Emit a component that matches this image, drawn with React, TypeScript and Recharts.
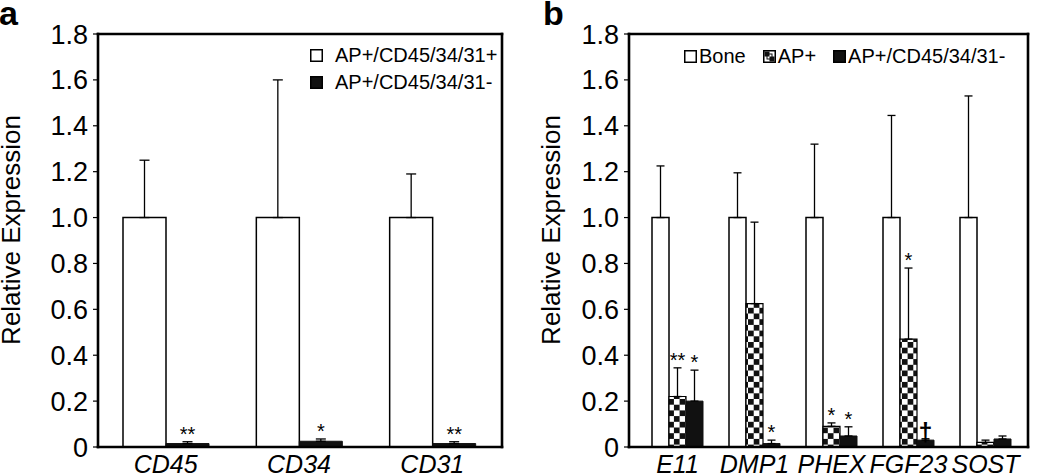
import React from 'react';
import {
  BarChart, Bar, XAxis, YAxis, ErrorBar, LabelList, Label, Legend,
} from 'recharts';

// panel a
const genesA = ['CD45', 'CD34', 'CD31'];
const posA = [1.0, 1.0, 1.0];
const posAErr = [0.25, 0.6, 0.19];
const negA = [0.015, 0.025, 0.015];
const negAErr = [0.008, 0.01, 0.008];
const negAStars = ['**', '*', '**'];

// panel b
const genesB = ['E11', 'DMP1', 'PHEX', 'FGF23', 'SOST'];
const bone = [1.0, 1.0, 1.0, 1.0, 1.0];
const boneErr = [0.225, 0.195, 0.32, 0.445, 0.53];
const apPos = [0.22, 0.625, 0.09, 0.47, 0.02];
const apPosErr = [0.125, 0.355, 0.015, 0.31, 0.01];
const apPosStars = ['**', '', '*', '*', ''];
const apNeg = [0.2, 0.015, 0.048, 0.03, 0.035];
const apNegErr = [0.135, 0.015, 0.04, 0.006, 0.013];
const apNegStars = ['*', '*', '*', '\u2020', ''];

const yTicks = [0, 0.2, 0.4, 0.6, 0.8, 1.0, 1.2, 1.4, 1.6, 1.8];
const yMax = 1.8;

const dataA = genesA.map((g, i) => ({
  gene: g,
  pos: posA[i], posErr: [0, posAErr[i]],
  neg: negA[i], negErr: [0, negAErr[i]],
  negStar: negAStars[i],
}));

const dataB = genesB.map((g, i) => ({
  gene: g,
  bone: bone[i], boneErr: [0, boneErr[i]],
  apPos: apPos[i], apPosErr: [0, apPosErr[i]], apPosStar: apPosStars[i],
  apNeg: apNeg[i], apNegErr: [0, apNegErr[i]], apNegStar: apNegStars[i],
}));

const FONT = '"Liberation Sans", Arial, Helvetica, sans-serif';
const LW = 2.6;
const axisLine = { stroke: '#000', strokeWidth: LW, strokeLinecap: 'square' as const };
const hiddenTick = { fill: 'transparent', fontSize: 10 };
const hiddenTickLine = { stroke: 'transparent' };

// star sits above the error bar top: scale taken from the bar's own px/value
const starLabel = (vals: number[], errs: number[], size: number) => (props: any) => {
  const { x, y, width, height, value, index } = props;
  if (!value) return null;
  const v = vals[index];
  const ppu = v > 0 ? height / v : 0;
  const top = y - errs[index] * ppu;
  const dagger = value === '\u2020';
  return (
    <text x={x + width / 2} y={dagger ? top + 2 : top - 1} textAnchor="middle"
      fontSize={dagger ? 25 : size} fontWeight={dagger ? 'bold' : 'normal'} fill="#000" fontFamily={FONT}>
      {value}
    </text>
  );
};

const yLabel = (bx: number) => (props: any) => {
  const vb = props.viewBox;
  const cx = vb.x + bx;
  const cy = 230;
  return (
    <text x={cx} y={cy} transform={`rotate(-90, ${cx}, ${cy})`} textAnchor="middle"
      fontSize={26} fill="#000" fontFamily={FONT}>
      Relative Expression
    </text>
  );
};

const Swatch: React.FC<{ kind: string }> = ({ kind }) => (
  <svg width={13} height={13} style={{ display: 'block' }}>
    <rect x={0.75} y={0.75} width={11.5} height={11.5} stroke="#000" strokeWidth={1.5}
      fill={kind === 'black' ? '#111' : '#fff'} />
    {kind === 'check' && (
      <>
        <rect x={1.5} y={1.5} width={5} height={5} fill="#111" />
        <rect x={6.5} y={6.5} width={5} height={5} fill="#111" />
        <rect x={4} y={4} width={5} height={5} fill="none" stroke="#111" strokeWidth={1} />
      </>
    )}
  </svg>
);

const legendA = () => (
  <div style={{ fontFamily: FONT, fontSize: 20, color: '#000', lineHeight: '27px' }}>
    {[['white', 'AP+/CD45/34/31+'], ['black', 'AP+/CD45/34/31-']].map(([k, t]) => (
      <div key={t} style={{ display: 'flex', alignItems: 'center' }}>
        <Swatch kind={k} /><span style={{ marginLeft: 12 }}>{t}</span>
      </div>
    ))}
  </div>
);

const legendB = () => (
  <div style={{ fontFamily: FONT, fontSize: 20, color: '#000', display: 'flex', alignItems: 'center', whiteSpace: 'nowrap' }}>
    {[['white', 'Bone'], ['check', 'AP+'], ['black', 'AP+/CD45/34/31-']].map(([k, t], i) => (
      <div key={t} style={{ display: 'flex', alignItems: 'center', marginLeft: i ? 17 : 0 }}>
        <Swatch kind={k} /><span style={{ marginLeft: 2 }}>{t}</span>
      </div>
    ))}
  </div>
);

const tickFmt = (v: number) => (v === 0 ? '0' : v.toFixed(1));
const yTick = { fontSize: 27, fill: '#000', fontFamily: FONT };
const xTick = { fontSize: 25, fill: '#000', fontFamily: FONT, fontStyle: 'italic' as const };

const H = 476;
const X_H = 29;
const TOP_H = 30;

const App: React.FC = () => (
  <div style={{ position: 'absolute', left: 0, top: 0, width: 1050, height: H, background: '#fff', fontFamily: FONT }}>
    <svg width={0} height={0} style={{ position: 'absolute' }}>
      <defs>
        <pattern id="check" width={11.4} height={11.4} patternUnits="userSpaceOnUse">
          <rect width={11.4} height={11.4} fill="#fff" />
          <rect width={5.7} height={5.7} fill="#111" />
          <rect x={5.7} y={5.7} width={5.7} height={5.7} fill="#111" />
        </pattern>
      </defs>
    </svg>

    <div style={{ position: 'absolute', left: -1, top: 0, fontSize: 34, lineHeight: '26px', fontWeight: 'bold' }}>a</div>
    <div style={{ position: 'absolute', left: 543, top: 0, fontSize: 34, lineHeight: '26px', fontWeight: 'bold' }}>b</div>

    <div style={{ position: 'absolute', left: 0, top: 0, width: 520, height: H }}>
      <BarChart width={520} height={H} data={dataA} barGap={0} barSize={43}
        margin={{ top: 34 - TOP_H, right: 0, bottom: 0, left: 0 }}>
        <XAxis dataKey="gene" height={X_H} tickLine={false} axisLine={axisLine} tick={xTick}
          padding={{ left: 1, right: 3 }} interval={0} tickMargin={2} />
        <XAxis xAxisId="top" dataKey="gene" orientation="top" height={TOP_H} axisLine={axisLine}
          tick={hiddenTick} tickLine={hiddenTickLine} />
        <YAxis domain={[0, yMax]} ticks={yTicks} width={98} tick={yTick} tickFormatter={tickFmt}
          tickSize={5} tickMargin={5} tickLine={{ stroke: '#000', strokeWidth: 1.2 }} axisLine={axisLine}>
          <Label content={yLabel(20)} />
        </YAxis>
        <YAxis yAxisId="right" orientation="right" domain={[0, yMax]} ticks={yTicks} width={18}
          axisLine={axisLine} tick={hiddenTick} tickLine={hiddenTickLine} />
        <Legend layout="vertical" verticalAlign="middle" align="center" content={legendA}
          wrapperStyle={{ top: 42, left: 310, width: 'auto' }} />
        <Bar dataKey="pos" fill="#fff" stroke="#000" strokeWidth={1.5} isAnimationActive={false}>
          <ErrorBar dataKey="posErr" width={5} stroke="#000" strokeWidth={1.3} />
        </Bar>
        <Bar dataKey="neg" fill="#111" stroke="#111" strokeWidth={1} isAnimationActive={false}>
          <ErrorBar dataKey="negErr" width={5} stroke="#000" strokeWidth={1.3} />
          <LabelList dataKey="negStar" content={starLabel(negA, negAErr, 20)} />
        </Bar>
      </BarChart>
    </div>

    <div style={{ position: 'absolute', left: 520, top: 0, width: 530, height: H }}>
      <BarChart width={530} height={H} data={dataB} barGap={0} barSize={17}
        margin={{ top: 34 - TOP_H, right: 2, bottom: 0, left: 0 }}>
        <XAxis dataKey="gene" height={X_H} tickLine={false} axisLine={axisLine} tick={xTick}
          padding={{ left: 10, right: 4 }} interval={0} tickMargin={2} />
        <XAxis xAxisId="top" dataKey="gene" orientation="top" height={TOP_H} axisLine={axisLine}
          tick={hiddenTick} tickLine={hiddenTickLine} />
        <YAxis domain={[0, yMax]} ticks={yTicks} width={109} tick={yTick} tickFormatter={tickFmt}
          tickSize={5} tickMargin={5} tickLine={{ stroke: '#000', strokeWidth: 1.2 }} axisLine={axisLine}>
          <Label content={yLabel(40)} />
        </YAxis>
        <YAxis yAxisId="right" orientation="right" domain={[0, yMax]} ticks={yTicks} width={20}
          axisLine={axisLine} tick={hiddenTick} tickLine={hiddenTickLine} />
        <Legend layout="vertical" verticalAlign="middle" align="center" content={legendB}
          wrapperStyle={{ top: 45, left: 164, width: 'auto' }} />
        <Bar dataKey="bone" fill="#fff" stroke="#000" strokeWidth={1.5} isAnimationActive={false}>
          <ErrorBar dataKey="boneErr" width={4} stroke="#000" strokeWidth={1.3} />
        </Bar>
        <Bar dataKey="apPos" fill="url(#check)" stroke="#000" strokeWidth={1.2} isAnimationActive={false}>
          <ErrorBar dataKey="apPosErr" width={4} stroke="#000" strokeWidth={1.3} />
          <LabelList dataKey="apPosStar" content={starLabel(apPos, apPosErr, 20)} />
        </Bar>
        <Bar dataKey="apNeg" fill="#111" stroke="#111" strokeWidth={1} isAnimationActive={false}>
          <ErrorBar dataKey="apNegErr" width={4} stroke="#000" strokeWidth={1.3} />
          <LabelList dataKey="apNegStar" content={starLabel(apNeg, apNegErr, 20)} />
        </Bar>
      </BarChart>
    </div>
  </div>
);

export default App;
